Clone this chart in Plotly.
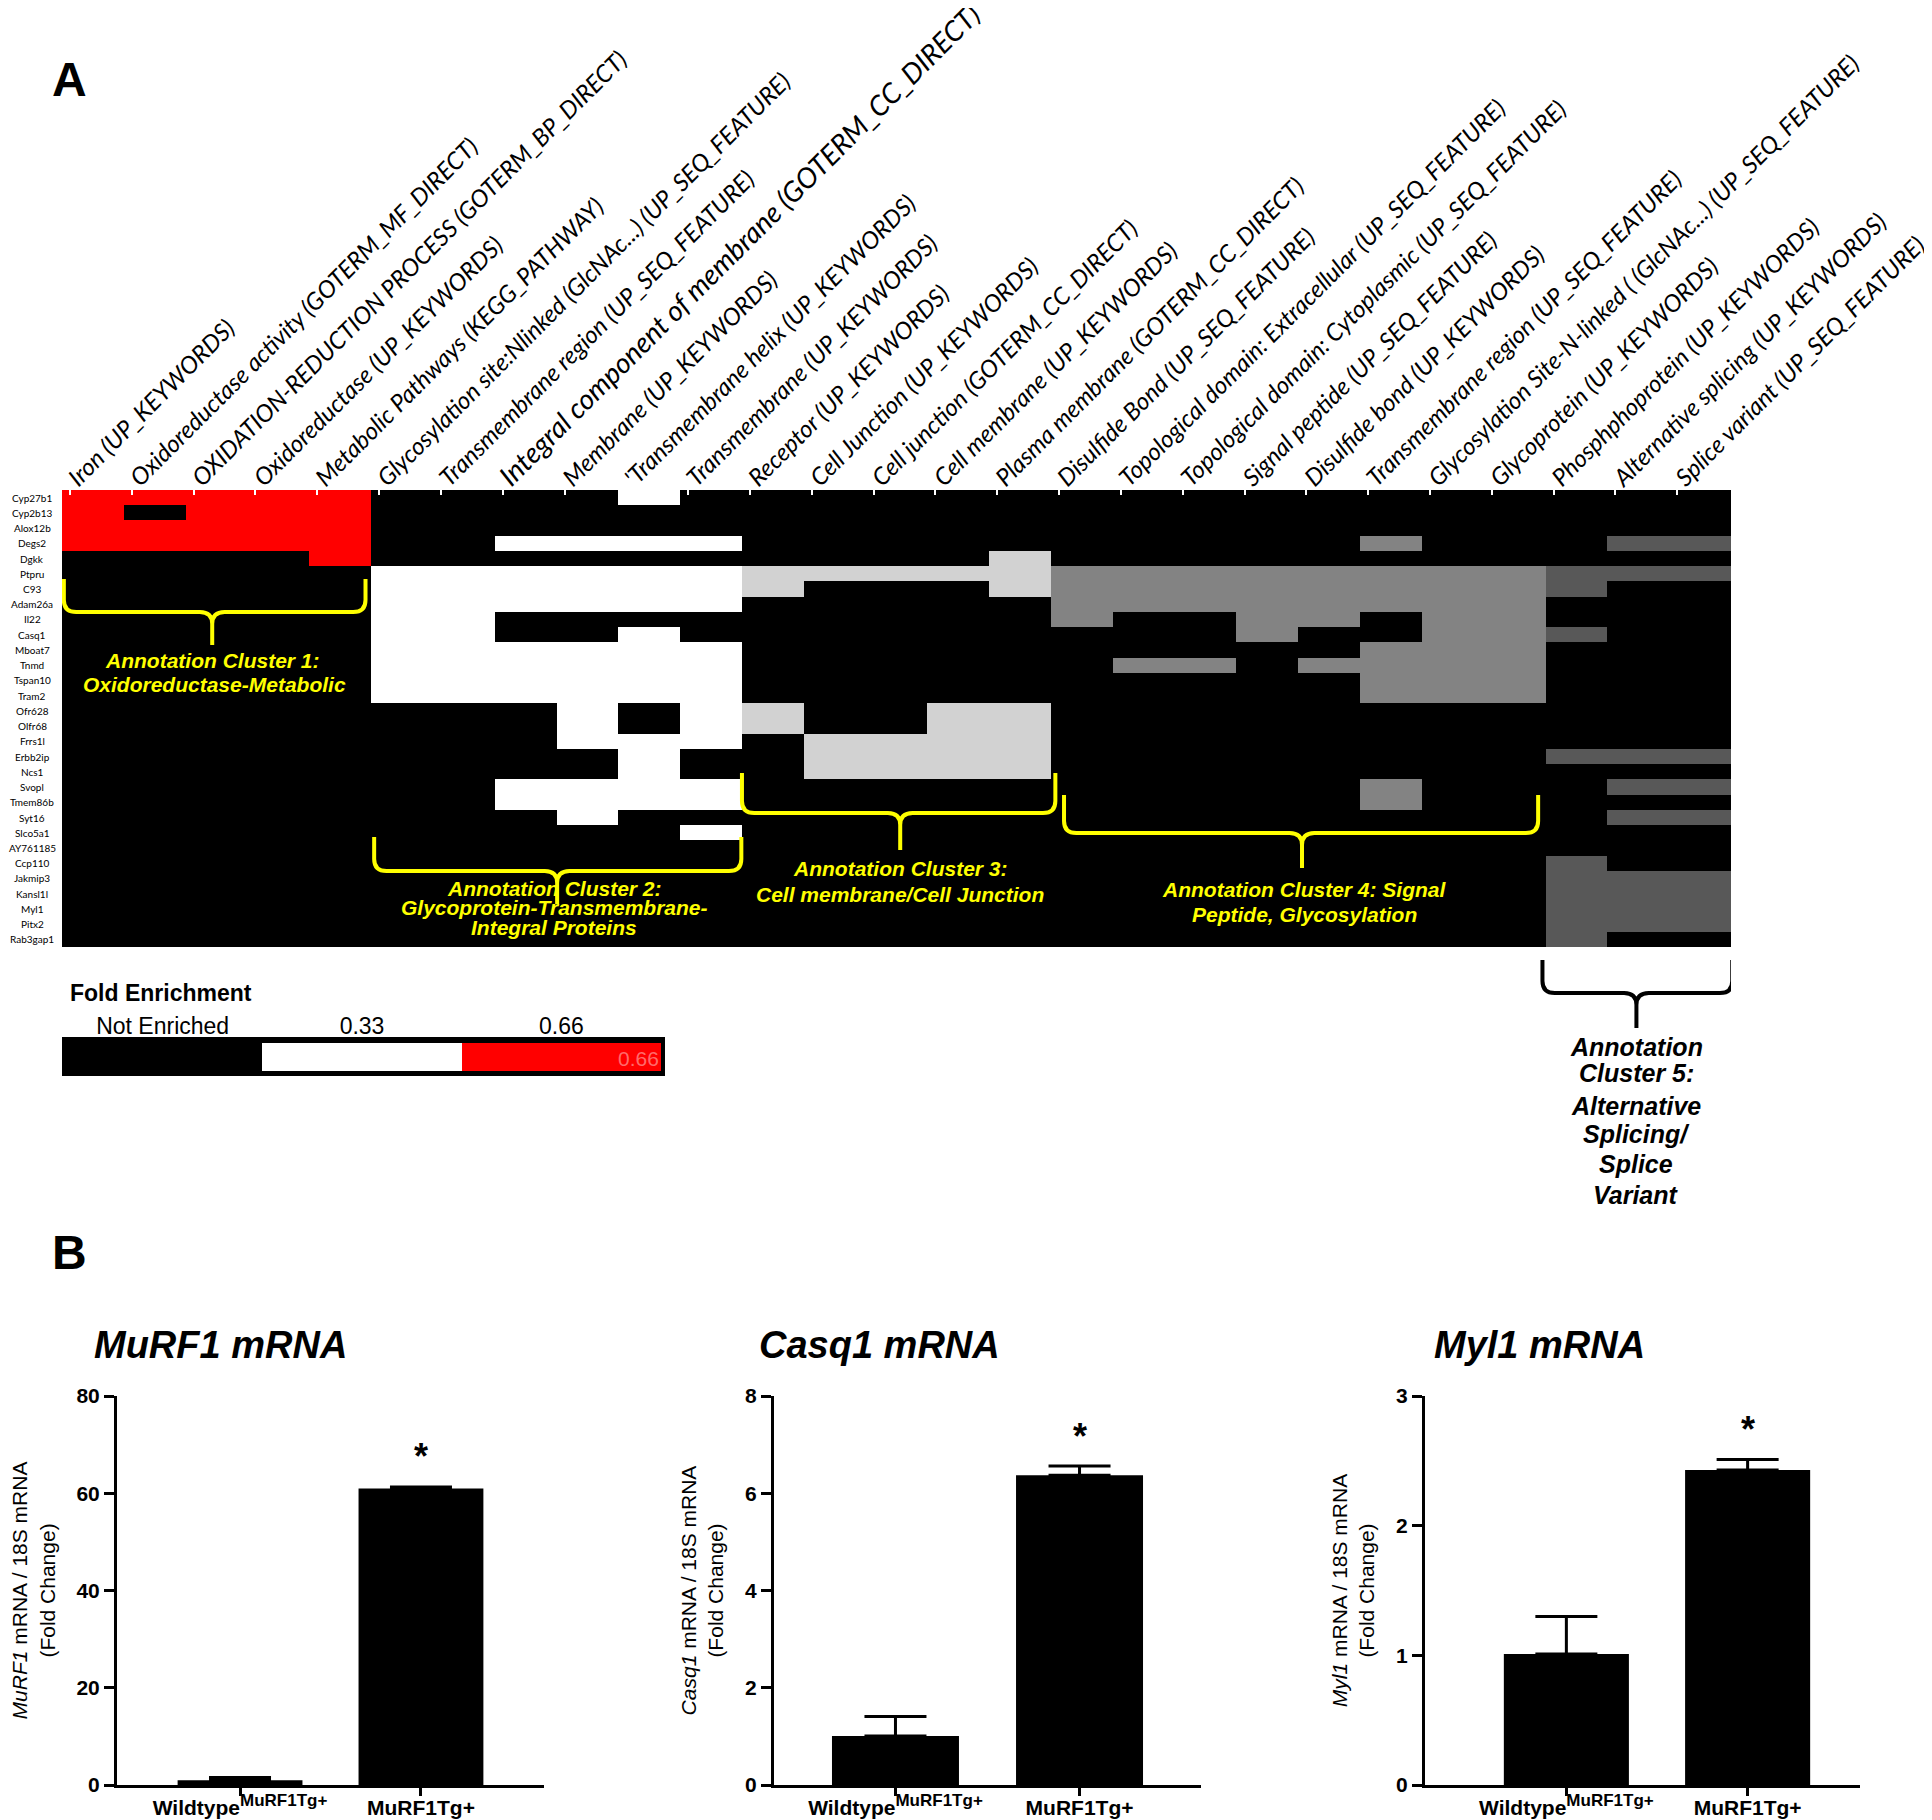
"""DAVID annotation clusters heatmap (A) and qPCR validation bars (B)."""

import plotly.graph_objects as go

W, H = 1932, 1820
PAGE_MARGIN = 8  # default <body> margin of the html page

TERMS = [
    "Iron (UP_KEYWORDS)",
    "Oxidoreductase activity (GOTERM_MF_DIRECT)",
    "OXIDATION-REDUCTION PROCESS (GOTERM_BP_DIRECT)",
    "Oxidoreductase (UP_KEYWORDS)",
    "Metabolic Pathways (KEGG_PATHWAY)",
    "Glycosylation site:Nlinked (GlcNAc...) (UP_SEQ_FEATURE)",
    "Transmembrane region (UP_SEQ_FEATURE)",
    "<span style='font-size:28px'>Integral component of membrane (GOTERM_CC_DIRECT)</span>",
    "Membrane (UP_KEYWORDS)",
    "'Transmembrane helix (UP_KEYWORDS)",
    "Transmembrane (UP_KEYWORDS)",
    "Receptor (UP_KEYWORDS)",
    "Cell Junction (UP_KEYWORDS)",
    "Cell junction (GOTERM_CC_DIRECT)",
    "Cell membrane (UP_KEYWORDS)",
    "Plasma membrane (GOTERM_CC_DIRECT)",
    "Disulfide Bond (UP_SEQ_FEATURE)",
    "Topological domain: Extracellular (UP_SEQ_FEATURE)",
    "Topological domain: Cytoplasmic (UP_SEQ_FEATURE)",
    "Signal peptide (UP_SEQ_FEATURE)",
    "Disulfide bond (UP_KEYWORDS)",
    "Transmembrane region (UP_SEQ_FEATURE)",
    "Glycosylation Site-N-linked ( (GlcNAc...) (UP_SEQ_FEATURE)",
    "Glycoprotein (UP_KEYWORDS)",
    "Phosphphoprotein (UP_KEYWORDS)",
    "Alternative splicing (UP_KEYWORDS)",
    "Splice variant (UP_SEQ_FEATURE)",
]

GENES = [
    "Cyp27b1", "Cyp2b13", "Alox12b", "Degs2", "Dgkk", "Ptpru", "C93", "Adam26a",
    "Il22", "Casq1", "Mboat7", "Tnmd", "Tspan10", "Tram2", "Ofr628", "Olfr68",
    "Frrs1l", "Erbb2ip", "Ncs1", "Svopl", "Tmem86b", "Syt16", "Slco5a1",
    "AY761185", "Ccp110", "Jakmip3", "Kansl1l", "Myl1", "Pitx2", "Rab3gap1",
]

# 0 = not enriched, 1 = 0.66 (red), 2 = 0.33 (white),
# 3 / 4 / 5 = member of annotation cluster 3 / 4 / 5 (grey shades)
ENRICHMENT = [
    [1, 1, 1, 1, 1, 0, 0, 0, 0, 2, 0, 0, 0, 0, 0, 0, 0, 0, 0, 0, 0, 0, 0, 0, 0, 0, 0],  # Cyp27b1
    [1, 0, 1, 1, 1, 0, 0, 0, 0, 0, 0, 0, 0, 0, 0, 0, 0, 0, 0, 0, 0, 0, 0, 0, 0, 0, 0],  # Cyp2b13
    [1, 1, 1, 1, 1, 0, 0, 0, 0, 0, 0, 0, 0, 0, 0, 0, 0, 0, 0, 0, 0, 0, 0, 0, 0, 0, 0],  # Alox12b
    [1, 1, 1, 1, 1, 0, 0, 2, 2, 2, 2, 0, 0, 0, 0, 0, 0, 0, 0, 0, 0, 4, 0, 0, 0, 5, 5],  # Degs2
    [0, 0, 0, 0, 1, 0, 0, 0, 0, 0, 0, 0, 0, 0, 0, 3, 0, 0, 0, 0, 0, 0, 0, 0, 0, 0, 0],  # Dgkk
    [0, 0, 0, 0, 0, 2, 2, 2, 2, 2, 2, 3, 3, 3, 3, 3, 4, 4, 4, 4, 4, 4, 4, 4, 5, 5, 5],  # Ptpru
    [0, 0, 0, 0, 0, 2, 2, 2, 2, 2, 2, 3, 0, 0, 0, 3, 4, 4, 4, 4, 4, 4, 4, 4, 5, 0, 0],  # C93
    [0, 0, 0, 0, 0, 2, 2, 2, 2, 2, 2, 0, 0, 0, 0, 0, 4, 4, 4, 4, 4, 4, 4, 4, 0, 0, 0],  # Adam26a
    [0, 0, 0, 0, 0, 2, 2, 0, 0, 0, 0, 0, 0, 0, 0, 0, 4, 0, 0, 4, 4, 0, 4, 4, 0, 0, 0],  # Il22
    [0, 0, 0, 0, 0, 2, 2, 0, 0, 2, 0, 0, 0, 0, 0, 0, 0, 0, 0, 4, 0, 0, 4, 4, 5, 0, 0],  # Casq1
    [0, 0, 0, 0, 0, 2, 2, 2, 2, 2, 2, 0, 0, 0, 0, 0, 0, 0, 0, 0, 0, 4, 4, 4, 0, 0, 0],  # Mboat7
    [0, 0, 0, 0, 0, 2, 2, 2, 2, 2, 2, 0, 0, 0, 0, 0, 0, 4, 4, 0, 4, 4, 4, 4, 0, 0, 0],  # Tnmd
    [0, 0, 0, 0, 0, 2, 2, 2, 2, 2, 2, 0, 0, 0, 0, 0, 0, 0, 0, 0, 0, 4, 4, 4, 0, 0, 0],  # Tspan10
    [0, 0, 0, 0, 0, 2, 2, 2, 2, 2, 2, 0, 0, 0, 0, 0, 0, 0, 0, 0, 0, 4, 4, 4, 0, 0, 0],  # Tram2
    [0, 0, 0, 0, 0, 0, 0, 0, 2, 0, 2, 3, 0, 0, 3, 3, 0, 0, 0, 0, 0, 0, 0, 0, 0, 0, 0],  # Ofr628
    [0, 0, 0, 0, 0, 0, 0, 0, 2, 0, 2, 3, 0, 0, 3, 3, 0, 0, 0, 0, 0, 0, 0, 0, 0, 0, 0],  # Olfr68
    [0, 0, 0, 0, 0, 0, 0, 0, 2, 2, 2, 0, 3, 3, 3, 3, 0, 0, 0, 0, 0, 0, 0, 0, 0, 0, 0],  # Frrs1l
    [0, 0, 0, 0, 0, 0, 0, 0, 0, 2, 0, 0, 3, 3, 3, 3, 0, 0, 0, 0, 0, 0, 0, 0, 5, 5, 5],  # Erbb2ip
    [0, 0, 0, 0, 0, 0, 0, 0, 0, 2, 0, 0, 3, 3, 3, 3, 0, 0, 0, 0, 0, 0, 0, 0, 0, 0, 0],  # Ncs1
    [0, 0, 0, 0, 0, 0, 0, 2, 2, 2, 2, 0, 0, 0, 0, 0, 0, 0, 0, 0, 0, 4, 0, 0, 0, 5, 5],  # Svopl
    [0, 0, 0, 0, 0, 0, 0, 2, 2, 2, 2, 0, 0, 0, 0, 0, 0, 0, 0, 0, 0, 4, 0, 0, 0, 0, 0],  # Tmem86b
    [0, 0, 0, 0, 0, 0, 0, 0, 2, 0, 0, 0, 0, 0, 0, 0, 0, 0, 0, 0, 0, 0, 0, 0, 0, 5, 5],  # Syt16
    [0, 0, 0, 0, 0, 0, 0, 0, 0, 0, 2, 0, 0, 0, 0, 0, 0, 0, 0, 0, 0, 0, 0, 0, 0, 0, 0],  # Slco5a1
    [0, 0, 0, 0, 0, 0, 0, 0, 0, 0, 0, 0, 0, 0, 0, 0, 0, 0, 0, 0, 0, 0, 0, 0, 0, 0, 0],  # AY761185
    [0, 0, 0, 0, 0, 0, 0, 0, 0, 0, 0, 0, 0, 0, 0, 0, 0, 0, 0, 0, 0, 0, 0, 0, 5, 0, 0],  # Ccp110
    [0, 0, 0, 0, 0, 0, 0, 0, 0, 0, 0, 0, 0, 0, 0, 0, 0, 0, 0, 0, 0, 0, 0, 0, 5, 5, 5],  # Jakmip3
    [0, 0, 0, 0, 0, 0, 0, 0, 0, 0, 0, 0, 0, 0, 0, 0, 0, 0, 0, 0, 0, 0, 0, 0, 5, 5, 5],  # Kansl1l
    [0, 0, 0, 0, 0, 0, 0, 0, 0, 0, 0, 0, 0, 0, 0, 0, 0, 0, 0, 0, 0, 0, 0, 0, 5, 5, 5],  # Myl1
    [0, 0, 0, 0, 0, 0, 0, 0, 0, 0, 0, 0, 0, 0, 0, 0, 0, 0, 0, 0, 0, 0, 0, 0, 5, 5, 5],  # Pitx2
    [0, 0, 0, 0, 0, 0, 0, 0, 0, 0, 0, 0, 0, 0, 0, 0, 0, 0, 0, 0, 0, 0, 0, 0, 5, 0, 0],  # Rab3gap1
]

LEGEND_LABELS = ["Not Enriched", "0.33", "0.66"]
LEGEND_CODES = [0, 2, 1]

BAR_GROUPS = [
    "Wildtype<sup><span style='font-size:17px'>MuRF1Tg+</span></sup>",
    "MuRF1Tg+",
]
MURF1_MEAN = [1.0, 61.0]
MURF1_ERR = [0.55, 0.3]
CASQ1_MEAN = [1.01, 6.37]
CASQ1_ERR = [0.4, 0.19]
MYL1_MEAN = [1.01, 2.43]
MYL1_ERR = [0.29, 0.08]

CODE_COLORS = ["#000000", "#ff0000", "#ffffff", "#d2d2d2", "#838383", "#585858"]
YELLOW = "#ffff00"
SANS = "Liberation Sans, Arial, sans-serif"
NARROW = "Liberation Sans Narrow, Arial Narrow, Liberation Sans, sans-serif"


def px(x):
    """Page pixel (x) to paper fraction."""
    return (x - PAGE_MARGIN) / W


def py(y):
    """Page pixel (y, from the top) to paper fraction."""
    return 1 - (y - PAGE_MARGIN) / H


def discrete_scale(colors):
    n = len(colors)
    scale = []
    for i, c in enumerate(colors):
        scale.append([i / n, c])
        scale.append([(i + 1) / n, c])
    return scale


def brace(x0, x1, xt, ytop, ybar, ytip, color, rx=0.2, ry=12):
    """Curly brace opening upward with its tip pointing down (x in heatmap units, y in px)."""
    p = (
        f"M {x0},{py(ytop)} L {x0},{py(ybar - ry)} Q {x0},{py(ybar)} {x0 + rx},{py(ybar)} "
        f"L {xt - rx},{py(ybar)} Q {xt},{py(ybar)} {xt},{py(ybar + ry)} L {xt},{py(ytip)} "
        f"M {xt},{py(ybar + ry)} Q {xt},{py(ybar)} {xt + rx},{py(ybar)} "
        f"L {x1 - rx},{py(ybar)} Q {x1},{py(ybar)} {x1},{py(ybar - ry)} L {x1},{py(ytop)}"
    )
    return dict(type="path", path=p, xref="x", yref="paper", line=dict(color=color, width=4))


fig = go.Figure()
cscale = discrete_scale(CODE_COLORS)

# ---- panel A heatmap
fig.add_trace(go.Heatmap(
    z=ENRICHMENT, x=list(range(len(TERMS))), y=list(range(len(GENES))),
    colorscale=cscale, zmin=-0.5, zmax=5.5, showscale=False, hoverinfo="skip",
    xaxis="x", yaxis="y",
))

# ---- fold enrichment legend bar
fig.add_trace(go.Heatmap(
    z=[LEGEND_CODES], x=list(range(len(LEGEND_CODES))), y=[0],
    colorscale=cscale, zmin=-0.5, zmax=5.5, showscale=False, hoverinfo="skip",
    xaxis="x2", yaxis="y2",
))

layout = dict(
    width=W, height=H, margin=dict(l=0, r=0, t=0, b=0, autoexpand=False),
    paper_bgcolor="white", plot_bgcolor="white", showlegend=False,
    font=dict(family=SANS, color="black"),
    xaxis=dict(
        domain=[px(62), px(1731)], range=[-0.5, len(TERMS) - 0.5], anchor="y", side="top",
        tickvals=[i - 0.37 for i in range(len(TERMS))], ticktext=TERMS, tickangle=-45,
        tickfont=dict(family="Lato, Open Sans, sans-serif", size=24, style="italic", color="black"),
        ticks="inside", ticklen=5, tickwidth=2, tickcolor="white", automargin=False,
        ticklabelstandoff=-7, ticklabeloverflow="allow",
        showgrid=False, zeroline=False, showline=False,
    ),
    yaxis=dict(
        domain=[py(947), py(490)], range=[len(GENES) - 0.5, -0.5], anchor="x",
        showticklabels=False, showgrid=False, zeroline=False, ticks="", automargin=False,
    ),
    xaxis2=dict(
        domain=[px(63), px(661)], range=[-0.5, 2.5], anchor="y2", side="top",
        tickvals=list(range(len(LEGEND_LABELS))), ticktext=LEGEND_LABELS,
        tickfont=dict(family=SANS, size=23), ticks="", ticklabelstandoff=3,
        showgrid=False, zeroline=False, automargin=False,
    ),
    yaxis2=dict(
        domain=[py(1071), py(1043)], range=[-0.5, 0.5], anchor="x2",
        showticklabels=False, showgrid=False, zeroline=False, ticks="", automargin=False,
    ),
)

shapes = [
    dict(type="rect", xref="paper", yref="paper", x0=px(62), x1=px(665), y0=py(1076), y1=py(1037),
         fillcolor="black", line=dict(width=0), layer="below"),
    brace(-0.47, 4.41, 1.93, 579, 612, 645, YELLOW),
    brace(4.55, 10.49, 7.51, 837, 871, 904, YELLOW),
    brace(10.5, 15.57, 13.06, 773, 813, 850, YELLOW),
    brace(15.71, 23.38, 19.56, 795, 833, 868, YELLOW),
    brace(23.45, 26.52, 24.97, 960, 993, 1028, "black"),
]

annotations = []
for i, g in enumerate(GENES):
    annotations.append(dict(
        x=px(32), y=i, xref="paper", yref="y", text=g, showarrow=False,
        xanchor="center", yanchor="middle", font=dict(family="Lato, sans-serif", size=10, color="black"),
    ))

cluster_lines = [
    (1.93, 660, "Annotation Cluster 1:"), (1.96, 684, "Oxidoreductase-Metabolic"),
    (7.46, 888, "Annotation Cluster 2:"), (7.46, 907, "Glycoprotein-Transmembrane-"),
    (7.46, 927, "Integral Proteins"),
    (13.06, 868, "Annotation Cluster 3:"), (13.06, 894, "Cell membrane/Cell Junction"),
    (19.6, 889, "Annotation Cluster 4: Signal"), (19.6, 914, "Peptide, Glycosylation"),
]
for x, y, t in cluster_lines:
    annotations.append(dict(
        x=x, y=py(y), xref="x", yref="paper", text=t, showarrow=False,
        xanchor="center", yanchor="middle",
        font=dict(family=NARROW, size=21, color=YELLOW, weight="bold", style="italic"),
    ))
for y, t in [(1047, "Annotation"), (1073, "Cluster 5:"), (1106, "Alternative"),
             (1134, "Splicing/"), (1164, "Splice"), (1195, "Variant")]:
    annotations.append(dict(
        x=24.97, y=py(y), xref="x", yref="paper", text=t, showarrow=False,
        xanchor="center", yanchor="middle",
        font=dict(family=SANS, size=25, color="black", weight="bold", style="italic"),
    ))

annotations += [
    dict(x=px(50), y=py(80), xref="paper", yref="paper", text="<b>A</b>", showarrow=False,
         xanchor="left", yanchor="middle", font=dict(family=SANS, size=48)),
    dict(x=px(50), y=py(1252), xref="paper", yref="paper", text="<b>B</b>", showarrow=False,
         xanchor="left", yanchor="middle", font=dict(family=SANS, size=48)),
    dict(x=px(68), y=py(993), xref="paper", yref="paper", text="<b>Fold Enrichment</b>",
         showarrow=False, xanchor="left", yanchor="middle", font=dict(family=SANS, size=23)),
    dict(x=px(661), y=py(1058), xref="paper", yref="paper", text="0.66", showarrow=False,
         xanchor="right", yanchor="middle", font=dict(family=SANS, size=21, color="#ff6a6a")),
]

# ---- panel B bar charts
charts = [
    dict(title="MuRF1 mRNA", gene="MuRF1", mean=MURF1_MEAN, err=MURF1_ERR, ymax=80, dtick=20,
         left=117, right=544, xr=[-0.68, 1.68], title_x=92),
    dict(title="Casq1 mRNA", gene="Casq1", mean=CASQ1_MEAN, err=CASQ1_ERR, ymax=8, dtick=2,
         left=774, right=1201, xr=[-0.66, 1.66], title_x=757),
    dict(title="Myl1 mRNA", gene="Myl1", mean=MYL1_MEAN, err=MYL1_ERR, ymax=3, dtick=1,
         left=1425, right=1860, xr=[-0.78, 1.62], title_x=1432),
]
for k, c in enumerate(charts):
    n = k + 3
    xa, ya = f"x{n}", f"y{n}"
    fig.add_trace(go.Bar(
        x=[0, 1], y=c["mean"], width=0.69, marker=dict(color="black", line=dict(width=0)),
        error_y=dict(type="data", array=c["err"], arrayminus=[0, 0], symmetric=False,
                     color="black", thickness=3, width=31),
        xaxis=xa, yaxis=ya, hoverinfo="skip",
    ))
    layout[f"xaxis{n}"] = dict(
        domain=[px(c["left"]), px(c["right"])], range=c["xr"], anchor=ya,
        tickvals=[0, 1], ticktext=BAR_GROUPS,
        tickfont=dict(family=SANS, size=21, weight="bold"),
        showline=True, linewidth=3, linecolor="black", ticks="outside", ticklen=8,
        tickwidth=3, tickcolor="black", showgrid=False, zeroline=False, automargin=False,
        ticklabelstandoff=-6,
    )
    layout[f"yaxis{n}"] = dict(
        domain=[py(1785), py(1396)], range=[0, c["ymax"]], anchor=xa, dtick=c["dtick"],
        tickfont=dict(family=SANS, size=21, weight="bold"),
        showline=True, linewidth=3, linecolor="black", ticks="outside", ticklen=10,
        tickwidth=3, tickcolor="black", showgrid=False, zeroline=False, automargin=False,
        title=dict(text=f"<i>{c['gene']}</i> mRNA / 18S mRNA<br>(Fold Change)",
                   font=dict(family=SANS, size=21), standoff=16),
    )
    annotations.append(dict(
        x=px(c["title_x"]), y=py(1345), xref="paper", yref="paper", text=c["title"],
        showarrow=False, xanchor="left", yanchor="middle",
        font=dict(family=SANS, size=38, weight="bold", style="italic"),
    ))
    annotations.append(dict(
        x=1, y=c["mean"][1] + c["err"][1], xref=xa, yref=ya, text="*", showarrow=False,
        xanchor="center", yanchor="middle", yshift=30,
        font=dict(family=SANS, size=36, weight="bold"),
    ))

layout["shapes"] = shapes
layout["annotations"] = annotations
fig.update_layout(**layout)
fig.write_html("out.html")
